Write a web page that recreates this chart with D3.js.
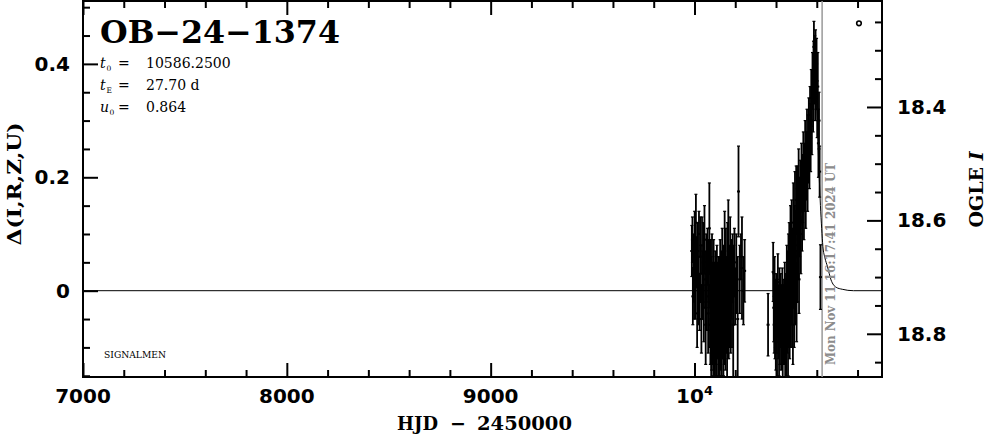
<!DOCTYPE html>
<html><head><meta charset="utf-8">
<script src="https://cdn.jsdelivr.net/npm/d3@7"></script>
<style>
html,body{margin:0;padding:0;background:#fff;}
svg{display:block;}
</style></head>
<body><svg id="c" width="986" height="434"></svg>
<script>
// ---- observations (HJD-2450000, delta mag, error) ----
const obsHJD = [
 9987,9990,9992,9995,9998,10001,10004,10007,10010,10013,10016,10019,10022,10025,10028,10031,10034,10037,10040,10043,
 10046,10049,10052,10055,10058,10061,10064,10067,10070,10073,10076,10078,10080,10082,10084,10086,10088,10090,10092,10094,
 10096,10098,10100,10102,10104,10106,10108,10110,10112,10114,10116,10118,10120,10122,10124,10126,10128,10130,10132,10134,
 10136,10138,10140,10142,10144,10146,10148,10150,10152,10154,10156,10158,10160,10162,10164,10166,10168,10170,10172,10175,
 10178,10181,10184,10187,10190,10193,10196,10200,10205,10212,10216,10222,10228,10233,10240,10246,
 10361,10386,10389,10391,10393,10395,10397,10399,10401,10403,10405,10407,10409,10411,10413,10415,10417,10419,10421,10423,
 10425,10427,10429,10431,10433,10435,10437,10439,10441,10443,10445,10447,10449,10451,10453,10455,10457,10459,10461,10463,
 10465,10467,10469,10471,10473,10475,10477,10479,10481,10483,10485,10487,10489,10491,10493,10495,10497,10499,10501,10503,
 10505,10507,10509,10511,10513,10516,10519,10522,10525,10528,10531,10534,10537,10540,10543,10546,10549,10552,10555,10558,
 10561,10564,10567,10570,10573,10576,10579,10582,10584,10586,10588,10590,10592,10594,10596,10599,10602,10605,10608,10611,10614,10618
];
const obsDelta = [
 0.07,0.09,-0.01,0.04,0.00,0.085,0.02,0.12,0.05,-0.04,0.07,0.00,0.10,-0.02,0.06,0.03,-0.05,0.08,0.01,0.05,
 -0.03,0.09,0.02,-0.06,0.04,-0.01,0.06,-0.04,0.03,0.11,-0.02,-0.06,0.01,-0.05,-0.08,0.02,-0.05,-0.02,-0.08,0.01,
 -0.06,-0.03,-0.09,-0.01,-0.06,-0.05,-0.08,0.00,-0.05,-0.03,-0.09,-0.02,-0.06,-0.05,-0.09,0.01,-0.07,-0.04,-0.02,-0.08,
 0.03,-0.05,-0.03,-0.08,0.00,-0.06,0.05,-0.04,-0.07,0.02,-0.04,-0.02,-0.07,0.04,-0.03,0.07,-0.05,0.00,-0.03,0.05,
 -0.04,0.02,-0.02,0.04,-0.06,0.01,0.05,-0.01,0.03,-0.05,0.175,0.02,0.06,0.04,0.00,0.035,
 -0.06,0.033,-0.03,-0.06,0.00,-0.07,-0.04,-0.08,-0.02,-0.05,-0.09,-0.03,0.015,-0.06,-0.04,-0.08,-0.02,-0.07,-0.05,-0.03,
 -0.08,-0.04,-0.06,-0.02,-0.09,-0.05,-0.07,-0.03,-0.06,-0.01,-0.08,-0.04,-0.02,-0.09,0.02,-0.05,0.00,-0.07,0.04,-0.03,
 0.06,-0.05,0.02,0.08,-0.04,0.01,0.10,-0.02,0.05,-0.06,0.12,0.03,-0.03,0.09,0.14,0.00,0.07,0.16,-0.02,0.11,
 0.04,0.15,0.08,0.18,0.02,0.13,0.17,0.10,0.20,0.14,0.18,0.22,0.16,0.20,0.24,0.18,0.22,0.26,0.21,0.25,
 0.28,0.24,0.31,0.27,0.34,0.30,0.37,0.33,0.39,0.43,0.38,0.41,0.35,0.42,0.37,0.40,0.32,0.36,0.26,0.30,0.21,0.024
];
const obsErr = [
 0.045,0.04,0.05,0.06,0.05,0.055,0.07,0.05,0.045,0.06,0.05,0.06,0.04,0.05,0.07,0.05,0.06,0.05,0.06,0.07,
 0.06,0.06,0.05,0.07,0.06,0.06,0.05,0.07,0.06,0.08,0.08,0.07,0.08,0.11,0.06,0.08,0.08,0.07,0.07,0.08,
 0.07,0.08,0.06,0.08,0.07,0.11,0.07,0.08,0.07,0.08,0.07,0.08,0.07,0.11,0.06,0.08,0.07,0.08,0.09,0.07,
 0.08,0.07,0.08,0.07,0.08,0.07,0.09,0.08,0.07,0.09,0.07,0.08,0.10,0.08,0.08,0.09,0.07,0.08,0.07,0.08,
 0.07,0.07,0.08,0.06,0.10,0.07,0.06,0.05,0.07,0.11,0.08,0.06,0.04,0.09,0.06,0.055,
 0.055,0.052,0.06,0.05,0.06,0.05,0.06,0.06,0.05,0.06,0.07,0.05,0.05,0.06,0.05,0.07,0.06,0.06,0.05,0.06,
 0.06,0.05,0.07,0.06,0.08,0.06,0.06,0.05,0.07,0.06,0.08,0.06,0.05,0.07,0.06,0.06,0.07,0.08,0.06,0.07,
 0.06,0.07,0.06,0.07,0.06,0.07,0.06,0.08,0.06,0.07,0.07,0.06,0.07,0.06,0.07,0.06,0.07,0.06,0.07,0.07,
 0.06,0.07,0.06,0.07,0.06,0.07,0.06,0.07,0.06,0.07,0.06,0.06,0.07,0.06,0.06,0.07,0.06,0.06,0.07,0.06,
 0.06,0.06,0.05,0.06,0.05,0.06,0.05,0.05,0.05,0.045,0.05,0.04,0.05,0.04,0.05,0.045,0.05,0.06,0.06,0.05,0.045,0.057
];
// ---- model curve ----
const modelHJD   = [7000,10400,10450,10480,10500,10520,10540,10556,10566,10576,10586,10593,10600,10610,10618,10624,10630,10640,10652,10670,10695,10725,10780,10920];
const modelDelta = [0,0,0.005,0.03,0.06,0.11,0.16,0.21,0.26,0.33,0.40,0.38,0.33,0.22,0.15,0.11,0.078,0.058,0.043,0.019,0.006,0.0025,0,0];
// ---- ticks ----
const xMajor = [7000,8000,9000,10000];
const xMajorLabels = ["7000","8000","9000","10"];
const xMajorSup = ["","","","4"];
const xMinor = [7200,7400,7600,7800,8200,8400,8600,8800,9200,9400,9600,9800,10200,10400,10600,10800];
const yMajor = [0,0.2,0.4];
const yMajorLabels = ["0","0.2","0.4"];
const yMinor = [-0.15,-0.1,-0.05,0.05,0.1,0.15,0.25,0.3,0.35,0.45,0.5];
const magMajor = [18.4,18.6,18.8];
const magMajorLabels = ["18.4","18.6","18.8"];
const magMinor = [18.25,18.3,18.35,18.45,18.5,18.55,18.65,18.7,18.75,18.85];
const baseMag = 18.724;
const nowHJD = 10626.18;
const nowLabel = "Mon Nov 11 16:17:41 2024 UT";
const markerHJD = [10807], markerDelta = [0.4715];
const eventName = "OB\u221224\u22121374";
const paramT0 = "10586.2500", paramTE = "27.70 d", paramU0 = "0.864";

const X0=83, X1=882, Y0=1, Y1=377;
const svg = d3.select("#c");
const x = d3.scaleLinear().domain([7000,10920]).range([X0,X1]);
const y = d3.scaleLinear().domain([-0.1522,0.5109]).range([Y1,Y0]);
const yMag = d3.scaleLinear().domain([baseMag+0.1522, baseMag-0.5109]).range([Y1,Y0]);

svg.append("defs").append("clipPath").attr("id","clip")
  .append("rect").attr("x",X0).attr("y",Y0).attr("width",X1-X0).attr("height",Y1-Y0);

const tickFont = g => g.selectAll("text").attr("font-family","DejaVu Sans").attr("font-weight","bold")
   .attr("font-size",20).attr("fill","#000");
function clean(g){ g.select(".domain").remove(); g.selectAll(".tick line").attr("stroke","#000").attr("stroke-width",2); }

// bottom
svg.append("g").attr("transform",`translate(0,${Y1})`)
  .call(d3.axisBottom(x).tickValues(xMajor).tickSize(-14).tickFormat("")).call(clean);
svg.append("g").attr("transform",`translate(0,${Y1})`)
  .call(d3.axisBottom(x).tickValues(xMinor).tickSize(-7).tickFormat("")).call(clean);
const bl = svg.append("g");
xMajor.forEach((v,i)=>{
  const t = bl.append("text").attr("x",x(v)).attr("y",403).attr("text-anchor","middle")
   .attr("font-family","DejaVu Sans").attr("font-weight","bold").attr("font-size",20);
  t.append("tspan").text(xMajorLabels[i]);
  if (xMajorSup[i]) t.append("tspan").attr("dy",-8).attr("font-size",13).text(xMajorSup[i]);
});
// top
svg.append("g").attr("transform",`translate(0,${Y0})`)
  .call(d3.axisTop(x).tickValues(xMajor).tickSize(-14).tickFormat("")).call(clean);
svg.append("g").attr("transform",`translate(0,${Y0})`)
  .call(d3.axisTop(x).tickValues(xMinor).tickSize(-7).tickFormat("")).call(clean);
// left
svg.append("g").attr("transform",`translate(${X0},0)`)
  .call(d3.axisLeft(y).tickValues(yMajor).tickSize(-15).tickPadding(13).tickFormat((d,i)=>yMajorLabels[i]))
  .call(clean).call(tickFont);
svg.append("g").attr("transform",`translate(${X0},0)`)
  .call(d3.axisLeft(y).tickValues(yMinor).tickSize(-7).tickFormat("")).call(clean);
// right
svg.append("g").attr("transform",`translate(${X1},0)`)
  .call(d3.axisRight(yMag).tickValues(magMajor).tickSize(-15).tickPadding(15).tickFormat((d,i)=>magMajorLabels[i]))
  .call(clean).call(tickFont);
svg.append("g").attr("transform",`translate(${X1},0)`)
  .call(d3.axisRight(yMag).tickValues(magMinor).tickSize(-7).tickFormat("")).call(clean);

// frame
svg.append("rect").attr("x",X0).attr("y",Y0).attr("width",X1-X0).attr("height",Y1-Y0)
  .attr("fill","none").attr("stroke","#000").attr("stroke-width",2);

const plot = svg.append("g").attr("clip-path","url(#clip)");
// now line
plot.append("line").attr("x1",x(nowHJD)).attr("x2",x(nowHJD)).attr("y1",Y0).attr("y2",Y1)
  .attr("stroke","#999").attr("stroke-width",1.5);
// model
const line = d3.line().x(d=>x(d[0])).y(d=>y(d[1])).curve(d3.curveMonotoneX);
plot.append("path").datum(modelHJD.map((h,i)=>[h,modelDelta[i]]))
  .attr("d",line).attr("fill","none").attr("stroke","#000").attr("stroke-width",1);
// error bars
const idx = d3.range(obsHJD.length);
plot.selectAll("line.eb").data(idx).join("line").attr("class","eb")
  .attr("x1",i=>x(obsHJD[i])).attr("x2",i=>x(obsHJD[i]))
  .attr("y1",i=>y(obsDelta[i]-obsErr[i])).attr("y2",i=>y(obsDelta[i]+obsErr[i]))
  .attr("stroke","#000").attr("stroke-width",1.8);
["lo","hi"].forEach(k=>{
  plot.selectAll("line.c"+k).data(idx).join("line").attr("class","c"+k)
   .attr("x1",i=>x(obsHJD[i])-1.5).attr("x2",i=>x(obsHJD[i])+1.5)
   .attr("y1",i=>y(obsDelta[i]+(k==="hi"?1:-1)*obsErr[i])).attr("y2",i=>y(obsDelta[i]+(k==="hi"?1:-1)*obsErr[i]))
   .attr("stroke","#000").attr("stroke-width",1.2);
});
plot.selectAll("rect.pt").data(idx).join("rect").attr("class","pt")
  .attr("x",i=>x(obsHJD[i])-1.5).attr("y",i=>y(obsDelta[i])-1).attr("width",3).attr("height",2).attr("fill","#000");
// marker
plot.selectAll("circle.mk").data(markerHJD).join("circle").attr("class","mk")
  .attr("cx",(d,i)=>x(d)).attr("cy",(d,i)=>y(markerDelta[i])).attr("r",2.3)
  .attr("fill","none").attr("stroke","#000").attr("stroke-width",1.6);

// date label
svg.append("text").attr("transform",`translate(835,264) rotate(-90)`).attr("text-anchor","middle")
  .attr("font-family","DejaVu Serif").attr("font-weight","bold").attr("font-size",12)
  .attr("fill","#8c8c8c").attr("textLength",202).attr("lengthAdjust","spacingAndGlyphs").text(nowLabel);

// title & params
svg.append("text").attr("x",100).attr("y",42.5).attr("font-family","DejaVu Serif").attr("font-weight","bold")
  .attr("font-size",31).attr("textLength",240).attr("lengthAdjust","spacingAndGlyphs").text(eventName);
function param(yb, sym, sub, val){
  const g = svg.append("g").attr("font-family","DejaVu Serif").attr("fill","#000");
  g.append("text").attr("x",100).attr("y",yb).attr("font-size",14).attr("font-style","italic").text(sym);
  g.append("text").attr("x",sym==="u"?109.5:106.5).attr("y",yb+3).attr("font-size",7.5).text(sub);
  g.append("text").attr("x",118).attr("y",yb).attr("font-size",14).text("=");
  g.append("text").attr("x",146).attr("y",yb).attr("font-size",14).text(val);
}
param(68,"t","0",paramT0);
param(90,"t","E",paramTE);
param(112,"u","0",paramU0);

svg.append("text").attr("x",104).attr("y",358).attr("font-family","DejaVu Serif").attr("font-size",8.5)
  .attr("textLength",62).attr("lengthAdjust","spacingAndGlyphs").text("SIGNALMEN");

// axis titles
const tf = s => s.attr("font-family","DejaVu Serif").attr("font-weight","bold").attr("font-size",19).attr("fill","#000");
svg.append("text").attr("x",397).attr("y",430).call(tf).attr("textLength",41).attr("lengthAdjust","spacingAndGlyphs").text("HJD");
svg.append("text").attr("x",458).attr("y",430).call(tf).attr("text-anchor","middle").text("\u2212");
svg.append("text").attr("x",477).attr("y",430).call(tf).attr("textLength",95).attr("lengthAdjust","spacingAndGlyphs").text("2450000");
svg.append("text").attr("transform","translate(21,184) rotate(-90)").call(tf).attr("text-anchor","middle")
  .attr("textLength",123).attr("lengthAdjust","spacingAndGlyphs").text("\u0394(I,R,Z,U)");
const ol = svg.append("text").attr("transform","translate(983,189.5) rotate(-90)").call(tf).attr("text-anchor","middle");
ol.append("tspan").text("OGLE ");
ol.append("tspan").attr("font-style","italic").text("I");
</script></body></html>
